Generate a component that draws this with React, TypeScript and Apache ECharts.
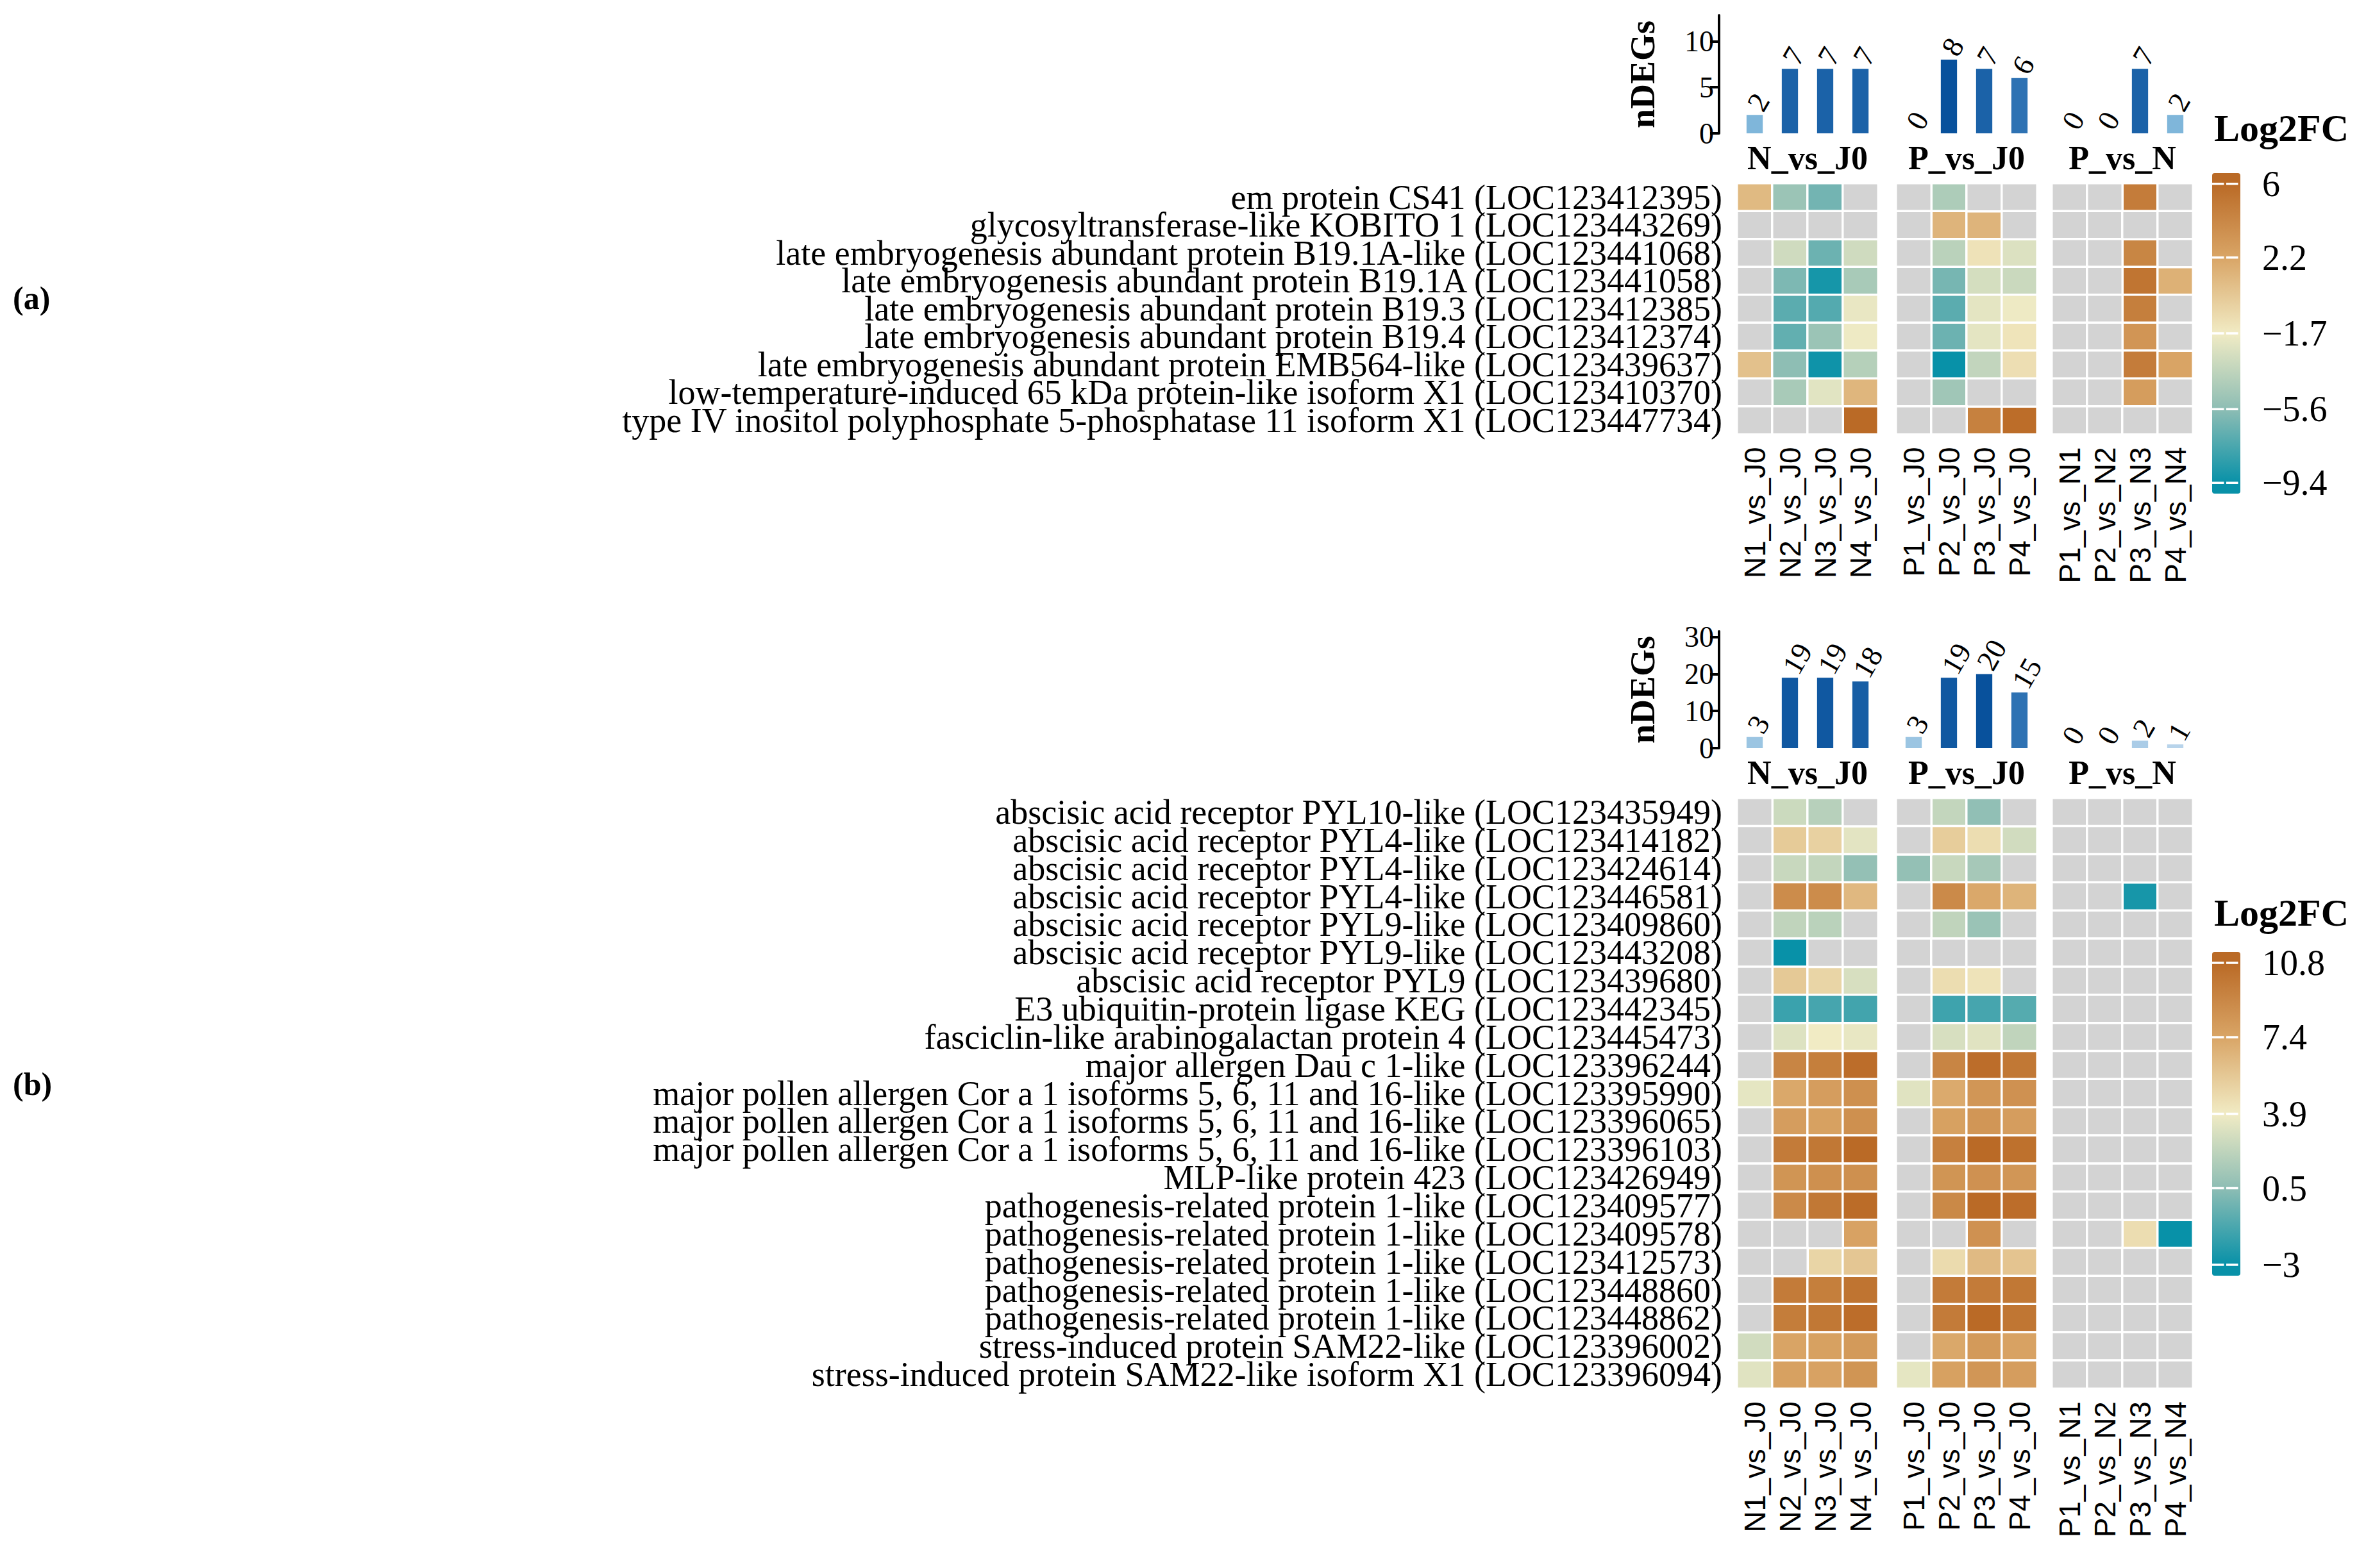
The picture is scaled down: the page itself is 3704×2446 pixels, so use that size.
import React, { useEffect, useRef } from "react";
import * as echarts from "echarts";

// ---------------- DATA ----------------
const COLS_N = ["N1_vs_J0", "N2_vs_J0", "N3_vs_J0", "N4_vs_J0"];
const COLS_P = ["P1_vs_J0", "P2_vs_J0", "P3_vs_J0", "P4_vs_J0"];
const COLS_PN = ["P1_vs_N1", "P2_vs_N2", "P3_vs_N3", "P4_vs_N4"];
const GROUP_NAMES = ["N_vs_J0", "P_vs_J0", "P_vs_N"];

const genesA = [
  "em protein CS41 (LOC123412395)",
  "glycosyltransferase-like KOBITO 1 (LOC123443269)",
  "late embryogenesis abundant protein B19.1A-like (LOC123441068)",
  "late embryogenesis abundant protein B19.1A (LOC123441058)",
  "late embryogenesis abundant protein B19.3 (LOC123412385)",
  "late embryogenesis abundant protein B19.4 (LOC123412374)",
  "late embryogenesis abundant protein EMB564-like (LOC123439637)",
  "low-temperature-induced 65 kDa protein-like isoform X1 (LOC123410370)",
  "type IV inositol polyphosphate 5-phosphatase 11 isoform X1 (LOC123447734)",
];
// columns: N1..N4, P1..P4, P1N1..P4N4 (null = not a DEG)
const valuesA: (number | null)[][] = [
  [1.0, -5.0, -6.3, null, null, -4.3, null, null, null, null, 4.8, null],
  [null, null, null, null, null, 1.3, 1.3, null, null, null, null, null],
  [null, -3.0, -6.5, -3.0, null, -3.8, -1.2, -2.5, null, null, 4.2, null],
  [null, -6.0, -9.0, -4.5, null, -6.2, -2.8, -3.2, null, null, 5.3, 1.5],
  [null, -7.0, -7.2, -2.0, null, -7.0, -2.2, -1.8, null, null, 4.6, null],
  [null, -6.8, -5.0, -1.8, null, -6.5, -2.2, -1.3, null, null, 3.2, null],
  [0.6, -5.5, -9.2, -4.0, null, -9.4, -3.5, -1.0, null, null, 4.8, 2.2],
  [null, -4.5, -2.3, 1.2, null, -4.8, null, null, null, null, 2.7, null],
  [null, null, null, 6.0, null, null, 4.5, 5.8, null, null, null, null],
];
const nDEGsA = [2, 7, 7, 7, 0, 8, 7, 6, 0, 0, 7, 2];
const barTicksA = [0, 5, 10];
const legendTicksA = [6, 2.2, -1.7, -5.6, -9.4];

const genesB = [
  "abscisic acid receptor PYL10-like (LOC123435949)",
  "abscisic acid receptor PYL4-like (LOC123414182)",
  "abscisic acid receptor PYL4-like (LOC123424614)",
  "abscisic acid receptor PYL4-like (LOC123446581)",
  "abscisic acid receptor PYL9-like (LOC123409860)",
  "abscisic acid receptor PYL9-like (LOC123443208)",
  "abscisic acid receptor PYL9 (LOC123439680)",
  "E3 ubiquitin-protein ligase KEG (LOC123442345)",
  "fasciclin-like arabinogalactan protein 4 (LOC123445473)",
  "major allergen Dau c 1-like (LOC123396244)",
  "major pollen allergen Cor a 1 isoforms 5, 6, 11 and 16-like (LOC123395990)",
  "major pollen allergen Cor a 1 isoforms 5, 6, 11 and 16-like (LOC123396065)",
  "major pollen allergen Cor a 1 isoforms 5, 6, 11 and 16-like (LOC123396103)",
  "MLP-like protein 423 (LOC123426949)",
  "pathogenesis-related protein 1-like (LOC123409577)",
  "pathogenesis-related protein 1-like (LOC123409578)",
  "pathogenesis-related protein 1-like (LOC123412573)",
  "pathogenesis-related protein 1-like (LOC123448860)",
  "pathogenesis-related protein 1-like (LOC123448862)",
  "stress-induced protein SAM22-like (LOC123396002)",
  "stress-induced protein SAM22-like isoform X1 (LOC123396094)",
];
const valuesB: (number | null)[][] = [
  [null, 2.6, 1.9, null, null, 2.3, 0.6, null, null, null, null, null],
  [null, 5.5, 5.2, 3.4, null, 5.4, 4.6, 2.8, null, null, null, null],
  [null, 2.5, 2.3, 0.7, 0.7, 2.5, 1.3, null, null, null, null, null],
  [null, 8.8, 8.8, 6.4, null, 8.9, 7.2, 6.6, null, null, -2.6, null],
  [null, 2.2, 2.0, null, null, 2.2, 0.9, null, null, null, null, null],
  [null, -3.0, null, null, null, null, null, null, null, null, null, null],
  [null, 5.6, 5.0, 3.0, null, 4.6, 4.3, null, null, null, null, null],
  [null, -1.7, -1.4, -1.5, null, -1.6, -1.4, -1.0, null, null, null, null],
  [null, 3.2, 3.9, 3.6, null, 3.0, 3.3, 2.2, null, null, null, null],
  [null, 9.2, 9.6, 10.6, null, 9.2, 10.6, 10.0, null, null, null, null],
  [3.5, 7.2, 7.8, 8.6, 3.3, 7.1, 8.2, 8.5, null, null, null, null],
  [null, 7.8, 7.6, 8.6, null, 7.6, 8.2, 7.8, null, null, null, null],
  [null, 9.8, 10.0, 10.8, null, 9.5, 10.8, 10.4, null, null, null, null],
  [null, 8.3, 8.6, 8.6, null, 8.3, 8.5, 8.2, null, null, null, null],
  [null, 8.9, 10.0, 10.7, null, 9.0, 10.8, 10.6, null, null, null, null],
  [null, null, null, 7.5, null, null, 8.5, null, null, null, 4.6, -3.0],
  [null, null, 5.0, 5.7, null, 4.7, 6.3, 5.8, null, null, null, null],
  [null, 9.8, 9.6, 10.2, null, 9.8, 9.8, 10.0, null, null, null, null],
  [null, 9.7, 10.0, 10.6, null, 9.8, 10.8, 10.1, null, null, null, null],
  [2.8, 7.4, 7.6, 8.0, null, 7.2, 8.0, 7.5, null, null, null, null],
  [3.3, 7.6, 7.5, 8.3, 3.5, 7.6, 8.2, 7.8, null, null, null, null],
];
const nDEGsB = [3, 19, 19, 18, 3, 19, 20, 15, 0, 0, 2, 1];
const barTicksB = [0, 10, 20, 30];
const legendTicksB = [10.8, 7.4, 3.9, 0.5, -3];

// ---------------- STYLE / LAYOUT ----------------
const PAL = ["#0891A8", "#8DBDB4", "#F1EBC4", "#D9A566", "#BA6A26"]; // low -> high
const BAR_PAL = ["#C6DBEF", "#7FB6DA", "#5593C6", "#2E72B3", "#08519C"];
const NA_COLOR = "#D3D3D3";
const SERIF = "Liberation Serif";
const SANS = "Liberation Sans";
const M = 8; // body margin
const COLS = [COLS_N, COLS_P, COLS_PN];
const GROUP_LEFT = [2709, 2957, 3200];
const GROUP_W = 220;
const LEG_LEFT = 3450;
const LEG_W = 44;

const PANELS = [
  {
    tag: "(a)", tagY: 465,
    genes: genesA, values: valuesA, counts: nDEGsA, barTicks: barTicksA,
    heatTop: 286, rowH: 43.5,
    barTop: 24, barBottom: 208, barMax: 12.8, groupLabelY: 246,
    vmin: -9.4, vmax: 6, barMaxVal: 8,
    legTicks: legendTicksA, legTop: 270, legH: 500, legRange: [-9.95, 6.55], legTitleY: 200,
  },
  {
    tag: "(b)", tagY: 1691,
    genes: genesB, values: valuesB, counts: nDEGsB, barTicks: barTicksB,
    heatTop: 1245, rowH: 43.86,
    barTop: 985, barBottom: 1167, barMax: 31.5, groupLabelY: 1205,
    vmin: -3, vmax: 10.8, barMaxVal: 20,
    legTicks: legendTicksB, legTop: 1485, legH: 505, legRange: [-3.5, 11.3], legTitleY: 1424,
  },
];

const fmtMinus = (v: number) => {
  const s = String(Math.round(v * 10) / 10);
  return s.startsWith("-") ? "\u2212" + s.slice(1) : s;
};

function buildOption() {
  const grids: any[] = [];
  const xAxes: any[] = [];
  const yAxes: any[] = [];
  const series: any[] = [];
  const visualMaps: any[] = [];
  const graphics: any[] = [];
  const naIdx: number[] = [];

  PANELS.forEach((P) => {
    const heatIdx: number[] = [];
    const barIdx: number[] = [];
    for (let g = 0; g < 3; g++) {
      // ---- heatmap grid ----
      const hg = grids.length;
      grids.push({
        left: GROUP_LEFT[g] - M,
        top: P.heatTop - M,
        width: GROUP_W,
        height: P.rowH * P.genes.length,
      });
      xAxes.push({
        gridIndex: hg,
        type: "category",
        data: COLS[g],
        position: "bottom",
        axisLine: { show: false },
        axisTick: { show: false },
        splitLine: { show: false },
        axisLabel: { interval: 0, rotate: 90, margin: 20, fontFamily: SANS, fontSize: 46, color: "#000" },
      });
      yAxes.push({
        gridIndex: hg,
        type: "category",
        data: P.genes,
        inverse: true,
        axisLine: { show: false },
        axisTick: { show: false },
        splitLine: { show: false },
        axisLabel: { show: g === 0, interval: 0, margin: 23, fontFamily: SERIF, fontSize: 54, color: "#000" },
      });
      const vals: any[] = [];
      const nas: any[] = [];
      P.values.forEach((row, r) => {
        for (let c = 0; c < 4; c++) {
          const v = row[g * 4 + c];
          if (v === null) nas.push([c, r, 0]);
          else vals.push([c, r, v]);
        }
      });
      heatIdx.push(series.length);
      series.push({
        type: "heatmap",
        xAxisIndex: hg,
        yAxisIndex: hg,
        data: vals,
        itemStyle: { borderColor: "#fff", borderWidth: 3.5 },
        emphasis: { disabled: true },
      });
      naIdx.push(series.length);
      series.push({
        type: "heatmap",
        xAxisIndex: hg,
        yAxisIndex: hg,
        data: nas,
        itemStyle: { borderColor: "#fff", borderWidth: 3.5 },
        emphasis: { disabled: true },
      });

      // ---- bar grid ----
      const bg = grids.length;
      grids.push({
        left: GROUP_LEFT[g] - M,
        top: P.barTop - M,
        width: GROUP_W,
        height: P.barBottom - P.barTop,
      });
      xAxes.push({
        gridIndex: bg,
        type: "category",
        data: COLS[g],
        axisLine: { show: false },
        axisTick: { show: false },
        axisLabel: { show: false },
        splitLine: { show: false },
        name: GROUP_NAMES[g],
        nameLocation: "middle",
        nameGap: P.groupLabelY - P.barBottom,
        nameTextStyle: {
          fontFamily: SERIF,
          fontSize: 52,
          fontWeight: "bold",
          color: "#000",
          verticalAlign: "middle",
        },
      });
      yAxes.push({
        gridIndex: bg,
        type: "value",
        min: 0,
        max: P.barMax,
        show: g === 0,
        offset: 28,
        splitLine: { show: false },
        axisLine: { show: true, lineStyle: { color: "#000", width: 4 } },
        axisTick: { show: true, length: 14, lineStyle: { color: "#000", width: 4 }, customValues: P.barTicks },
        axisLabel: { customValues: P.barTicks, fontFamily: SERIF, fontSize: 46, color: "#000", margin: 8 },
        name: g === 0 ? "nDEGs" : "",
        nameLocation: "middle",
        nameRotate: 90,
        nameGap: 92,
        nameTextStyle: { fontFamily: SERIF, fontSize: 54, fontWeight: "bold", color: "#000" },
      });
      barIdx.push(series.length);
      series.push({
        type: "bar",
        xAxisIndex: bg,
        yAxisIndex: bg,
        data: P.counts.slice(g * 4, g * 4 + 4),
        barWidth: "46%",
        label: {
          show: true,
          position: "top",
          rotate: 60,
          align: "left",
          verticalAlign: "middle",
          distance: 10,
          fontFamily: SERIF,
          fontSize: 46,
          color: "#000",
        },
        emphasis: { disabled: true },
      });
    }

    visualMaps.push({
      type: "continuous",
      show: false,
      seriesIndex: heatIdx,
      min: P.vmin,
      max: P.vmax,
      inRange: { color: PAL },
    });
    visualMaps.push({
      type: "continuous",
      show: false,
      seriesIndex: barIdx,
      min: 0,
      max: P.barMaxVal,
      inRange: { color: BAR_PAL },
    });

    // ---- legend grid ----
    const lg = grids.length;
    grids.push({ left: LEG_LEFT - M, top: P.legTop - M, width: LEG_W, height: P.legH });
    xAxes.push({ gridIndex: lg, type: "category", data: [""], show: false });
    yAxes.push({
      gridIndex: lg,
      type: "value",
      min: P.legRange[0],
      max: P.legRange[1],
      position: "right",
      axisLine: { show: false },
      axisTick: { show: false },
      splitLine: { show: false },
      axisLabel: {
        customValues: P.legTicks,
        margin: 34,
        fontFamily: SERIF,
        fontSize: 56,
        color: "#000",
        formatter: (v: number) => fmtMinus(v),
      },
    });
    const lo = P.legRange[0];
    const hi = P.legRange[1];
    const asc = [...P.legTicks].sort((a, b) => a - b);
    series.push({
      type: "custom",
      xAxisIndex: lg,
      yAxisIndex: lg,
      data: [[0, 0]],
      silent: true,
      renderItem: (params: any, api: any) => {
        const cs = params.coordSys;
        const stops = asc
          .map((v, i) => ({ offset: (hi - v) / (hi - lo), color: PAL[i] }))
          .sort((a, b) => a.offset - b.offset);
        const children: any[] = [
          {
            type: "rect",
            shape: { x: cs.x, y: cs.y, width: cs.width, height: cs.height, r: 4 },
            style: {
              fill: new echarts.graphic.LinearGradient(0, 0, 0, 1, [
                { offset: 0, color: PAL[PAL.length - 1] },
                ...stops,
                { offset: 1, color: PAL[0] },
              ]),
            },
          },
        ];
        P.legTicks.forEach((v) => {
          const y = api.coord([0, v])[1];
          children.push({
            type: "line",
            shape: { x1: cs.x, y1: y, x2: cs.x + cs.width, y2: y },
            style: { stroke: "#fff", lineWidth: 3.5, lineDash: [cs.width * 0.42, cs.width * 0.08] },
          });
        });
        return { type: "group", children };
      },
    });

    graphics.push({
      type: "text",
      x: LEG_LEFT + 3 - M,
      y: P.legTitleY - M,
      style: {
        text: "Log2FC",
        fontFamily: SERIF,
        fontSize: 60,
        fontWeight: "bold",
        fill: "#000",
        align: "left",
        verticalAlign: "middle",
        textAlign: "left",
        textVerticalAlign: "middle",
      },
    });
    graphics.push({
      type: "text",
      x: 20 - M,
      y: P.tagY - M,
      style: {
        text: P.tag,
        fontFamily: SERIF,
        fontSize: 50,
        fontWeight: "bold",
        fill: "#000",
        align: "left",
        verticalAlign: "middle",
        textAlign: "left",
        textVerticalAlign: "middle",
      },
    });
  });

  // NA cells: constant grey
  visualMaps.push({
    type: "continuous",
    show: false,
    seriesIndex: naIdx,
    min: -1,
    max: 1,
    inRange: { color: [NA_COLOR, NA_COLOR] },
  });

  return {
    animation: false,
    backgroundColor: "#fff",
    grid: grids,
    xAxis: xAxes,
    yAxis: yAxes,
    visualMap: visualMaps,
    series,
    graphic: graphics,
  };
}

export default function App() {
  const ref = useRef<HTMLDivElement>(null);
  useEffect(() => {
    if (!ref.current) return;
    const chart = echarts.init(ref.current, undefined, { renderer: "svg" });
    chart.setOption(buildOption() as any);
    return () => chart.dispose();
  }, []);
  return <div ref={ref} style={{ width: 3688, height: 2430 }} />;
}
